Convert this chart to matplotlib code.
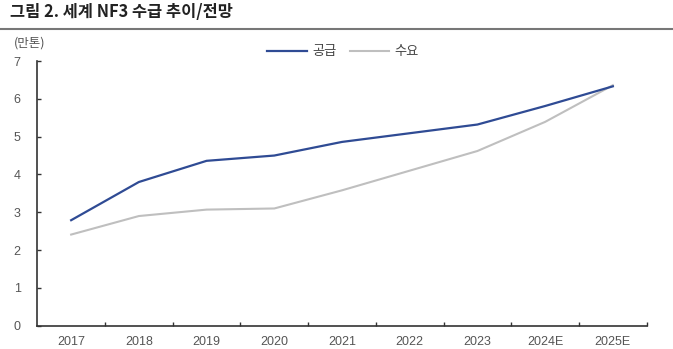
import matplotlib
matplotlib.use("Agg")
import matplotlib.pyplot as plt
from matplotlib.lines import Line2D

years = ["2017", "2018", "2019", "2020", "2021", "2022", "2023", "2024E", "2025E"]
supply = [2.79, 3.80, 4.36, 4.50, 4.86, 5.09, 5.32, 5.81, 6.33]
demand = [2.41, 2.90, 3.07, 3.10, 3.58, 4.10, 4.62, 5.39, 6.36]
series_names = ["공급", "수요"]
yticks = [0, 1, 2, 3, 4, 5, 6, 7]

W, H = 673, 349
fig = plt.figure(figsize=(W / 100, H / 100), dpi=100)
fig.patch.set_facecolor("white")

cjk = ["Noto Sans CJK KR", "DejaVu Sans"]
num_font = ["Liberation Sans", "DejaVu Sans"]

# plot area in pixel coordinates
left, right, top, bottom = 37.3, 646.7, 61.0, 325.7
ax = fig.add_axes([left / W, 1 - bottom / H, (right - left) / W, (bottom - top) / H])

x = list(range(len(years)))
ax.plot(x, demand, color="#BFBFBF", lw=1.5, solid_joinstyle="round", zorder=2)
ax.plot(x, supply, color="#2F4B94", lw=1.6, solid_joinstyle="round", zorder=3)

ax.set_xlim(-0.5, len(years) - 0.5)
ax.set_ylim(0, 7)

for s in ["top", "right"]:
    ax.spines[s].set_visible(False)
for s in ["left", "bottom"]:
    ax.spines[s].set_color("#333333")
    ax.spines[s].set_linewidth(1.2)

# y ticks
ax.set_yticks(yticks)
ax.set_yticklabels([str(v) for v in yticks], fontfamily=num_font, fontsize=9, color="#555555")
ax.tick_params(axis="y", direction="in", length=3, width=1, color="#333333", pad=12)

# x ticks: marks between categories, labels at category centres
ax.set_xticks([i + 0.5 for i in range(len(years))])
ax.set_xticklabels([])
ax.tick_params(axis="x", direction="in", length=3, width=1, color="#333333")
for i, lab in enumerate(years):
    ax.text(i, -0.28, lab, ha="center", va="top", fontfamily=num_font, fontsize=9,
            color="#555555", transform=ax.transData, clip_on=False)

# title and rule
fig.text(10 / W, 1 - 12.5 / H, "그림 2. 세계 NF3 수급 추이/전망", fontfamily=cjk, fontsize=11.8,
         fontweight="bold", color="#222222", ha="left", va="center")
fig.add_artist(Line2D([0, 1], [1 - 29 / H, 1 - 29 / H], transform=fig.transFigure,
                      color="#777777", lw=1.5))

# unit
fig.text(14 / W, 1 - 43 / H, "(만톤)", fontfamily=cjk, fontsize=9, color="#555555",
         ha="left", va="center")

# legend
handles = [Line2D([], [], color="#2F4B94", lw=1.6), Line2D([], [], color="#BFBFBF", lw=1.5)]
leg = fig.legend(handles, series_names, loc="center", bbox_to_anchor=(343 / W, 1 - 52 / H),
                 ncol=2, frameon=False, prop={"family": cjk, "size": 9.5},
                 handlelength=3.0, handletextpad=0.4, columnspacing=1.0)
for t in leg.get_texts():
    t.set_color("#444444")

fig.savefig("out.png", dpi=100, facecolor="white")
